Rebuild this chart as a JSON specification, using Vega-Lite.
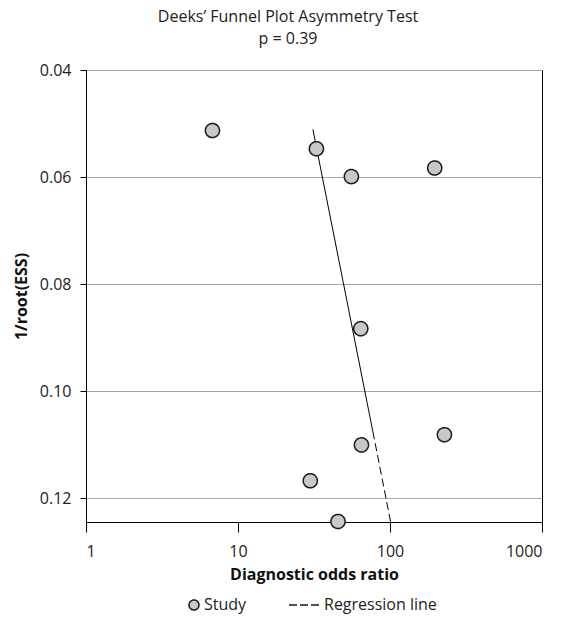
{
  "$schema": "https://vega.github.io/schema/vega-lite/v6.json",
  "width": 456,
  "height": 452,
  "autosize": {"type": "none"},
  "padding": {"left": 86, "top": 70, "right": 25, "bottom": 102},
  "title": {
    "text": "Deeks’ Funnel Plot Asymmetry Test",
    "subtitle": "p = 0.39",
    "anchor": "middle",
    "frame": "group",
    "dx": -26,
    "offset": 15,
    "font": "Open Sans",
    "fontSize": 16,
    "fontWeight": "normal",
    "color": "#222222",
    "subtitleFont": "Open Sans",
    "subtitleFontSize": 16,
    "subtitleColor": "#222222",
    "subtitlePadding": 6
  },
  "config": {
    "view": {"stroke": "#000000", "strokeWidth": 1},
    "axis": {
      "labelFont": "Open Sans",
      "labelFontSize": 16,
      "labelColor": "#222222",
      "titleFont": "Open Sans",
      "titleFontSize": 16,
      "titleFontWeight": "bold",
      "titleColor": "#111111",
      "domain": false,
      "tickColor": "#000000",
      "gridColor": "#a6a6a6",
      "gridOpacity": 1
    }
  },
  "encoding": {
    "x": {
      "field": "dor",
      "type": "quantitative",
      "scale": {"type": "log", "domain": [1, 1000]},
      "axis": {
        "title": "Diagnostic odds ratio",
        "values": [1, 10, 100, 1000],
        "format": "d",
        "grid": false,
        "tickSize": 10,
        "labelPadding": 11,
        "titlePadding": 7
      }
    },
    "y": {
      "field": "iess",
      "type": "quantitative",
      "scale": {"domain": [0.04, 0.1244], "reverse": true, "zero": false, "nice": false},
      "axis": {
        "title": "1/root(ESS)",
        "values": [0.04, 0.06, 0.08, 0.1, 0.12],
        "format": ".2f",
        "grid": true,
        "tickSize": 6,
        "labelPadding": 9,
        "titlePadding": 10
      }
    }
  },
  "layer": [
    {
      "data": {"values": [{"dor": 31.1, "iess": 0.0511}, {"dor": 77.1, "iess": 0.1075}]},
      "mark": {"type": "line", "color": "#000000", "strokeWidth": 1}
    },
    {
      "data": {"values": [{"dor": 77.1, "iess": 0.1075}, {"dor": 101, "iess": 0.1244}]},
      "mark": {"type": "line", "color": "#000000", "strokeWidth": 1, "strokeDash": [8, 4]}
    },
    {
      "data": {
        "values": [
          {"series": "Study", "dor": 6.79, "iess": 0.0513},
          {"series": "Study", "dor": 32.8, "iess": 0.0547},
          {"series": "Study", "dor": 55.7, "iess": 0.0599},
          {"series": "Study", "dor": 196.8, "iess": 0.0583},
          {"series": "Study", "dor": 64.2, "iess": 0.0883},
          {"series": "Study", "dor": 228, "iess": 0.1081},
          {"series": "Study", "dor": 64.9, "iess": 0.11},
          {"series": "Study", "dor": 29.9, "iess": 0.1167},
          {"series": "Study", "dor": 45.5, "iess": 0.1243}
        ]
      },
      "mark": {"type": "point", "filled": true, "fill": "#c8c8c8", "stroke": "#1a1a1a", "strokeWidth": 1.5, "size": 200, "opacity": 1},
      "encoding": {
        "shape": {
          "field": "series",
          "type": "nominal",
          "scale": {"domain": ["Study", "Regression line"], "range": ["circle", "M-5,0L1.2,0"]},
          "legend": {
            "title": null,
            "orient": "none",
            "direction": "horizontal",
            "legendX": 100,
            "legendY": 527,
            "padding": 0,
            "symbolSize": 100,
            "labelFont": "Open Sans",
            "labelFontSize": 16,
            "labelColor": "#222222",
            "labelOffset": 2,
            "columnPadding": 39,
            "encode": {
              "symbols": {
                "update": {
                  "fill": {"value": "#c8c8c8"},
                  "stroke": {"value": "#333333"},
                  "strokeWidth": {"value": 1},
                  "opacity": {"value": 1}
                }
              }
            }
          }
        },
        "strokeDash": {
          "field": "series",
          "type": "nominal",
          "scale": {"domain": ["Study", "Regression line"], "range": [[1, 0], [8, 3]]},
          "legend": {
            "title": null,
            "orient": "none",
            "direction": "horizontal",
            "legendX": 100,
            "legendY": 527,
            "padding": 0,
            "symbolSize": 100,
            "labelFont": "Open Sans",
            "labelFontSize": 16,
            "labelColor": "#222222",
            "labelOffset": 2,
            "columnPadding": 39,
            "encode": {
              "symbols": {
                "update": {
                  "fill": {"value": "#c8c8c8"},
                  "stroke": {"value": "#333333"},
                  "strokeWidth": {"value": 1},
                  "opacity": {"value": 1}
                }
              }
            }
          }
        }
      }
    }
  ]
}
